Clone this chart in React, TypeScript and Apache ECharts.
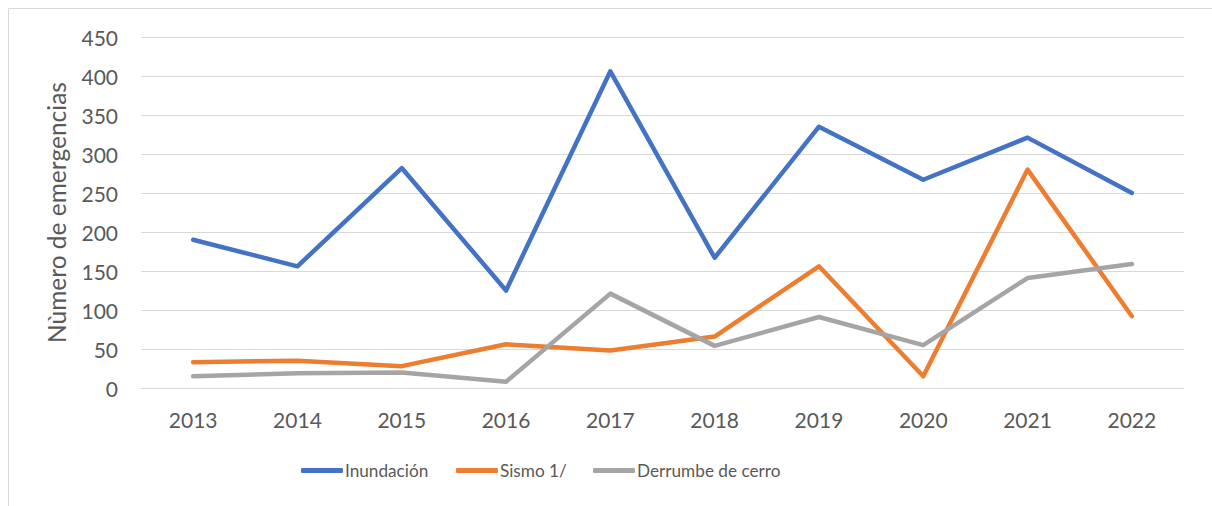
import React, { useEffect, useRef } from "react";
import * as echarts from "echarts";

const years = ["2013", "2014", "2015", "2016", "2017", "2018", "2019", "2020", "2021", "2022"];
const inundacion = [190, 156, 282, 125, 406, 167, 335, 267, 321, 250];
const sismo = [33, 35, 28, 56, 48, 66, 156, 15, 280, 92];
const derrumbe = [15, 19, 20, 8, 121, 54, 91, 55, 141, 159];
const seriesNames = ["Inundación", "Sismo 1/", "Derrumbe de cerro"];
const colors = ["#4472C4", "#ED7D31", "#A5A5A5"];
const yTicks = { min: 0, max: 450, interval: 50 };

const FONT = "Lato";

export default function App() {
  const ref = useRef<HTMLDivElement>(null);
  useEffect(() => {
    if (!ref.current) return;
    const chart = echarts.init(ref.current, undefined, { renderer: "svg" });
    const data = [inundacion, sismo, derrumbe];
    const legendLefts = [296, 451, 588];
    chart.setOption({
      animation: false,
      backgroundColor: "#FFFFFF",
      textStyle: { fontFamily: FONT },
      graphic: [
        {
          type: "rect",
          shape: { x: 8.5, y: 8.5, width: 1220, height: 520 },
          style: { fill: "none", stroke: "#D9D9D9", lineWidth: 1 },
          silent: true,
        },
      ],
      grid: { left: 141, right: 28, top: 37, bottom: 118, containLabel: false },
      legend: seriesNames.map((n, i) => ({
        data: [n],
        left: legendLefts[i],
        top: 457,
        itemWidth: 42,
        itemHeight: 5,
        itemGap: 0,
        icon: "roundRect",
        textStyle: { fontFamily: FONT, fontSize: 17.2, color: "#595959", padding: [0, 0, 0, -3] },
        selectedMode: false,
      })),
      xAxis: {
        type: "category",
        data: years,
        boundaryGap: true,
        axisLine: { show: true, lineStyle: { color: "#D9D9D9", width: 1 } },
        axisTick: { show: false },
        axisLabel: { color: "#595959", fontSize: 21, fontFamily: FONT, margin: 21 },
      },
      yAxis: {
        type: "value",
        min: yTicks.min,
        max: yTicks.max,
        interval: yTicks.interval,
        name: "Nùmero de emergencias",
        nameLocation: "middle",
        nameGap: 72,
        nameTextStyle: { color: "#595959", fontSize: 24.5, fontFamily: FONT },
        axisLine: { show: false },
        axisTick: { show: false },
        axisLabel: { color: "#595959", fontSize: 21, fontFamily: FONT, margin: 23 },
        splitLine: { lineStyle: { color: "#D9D9D9", width: 1 } },
      },
      series: seriesNames.map((n, i) => ({
        name: n,
        type: "line",
        data: data[i],
        symbol: "none",
        smooth: false,
        color: colors[i],
        lineStyle: { width: 4.5, color: colors[i], cap: "round", join: "round" },
      })),
    });
    return () => chart.dispose();
  }, []);
  return (
    <div
      ref={ref}
      style={{ position: "fixed", left: 0, top: 0, width: 1212, height: 506 }}
    />
  );
}
